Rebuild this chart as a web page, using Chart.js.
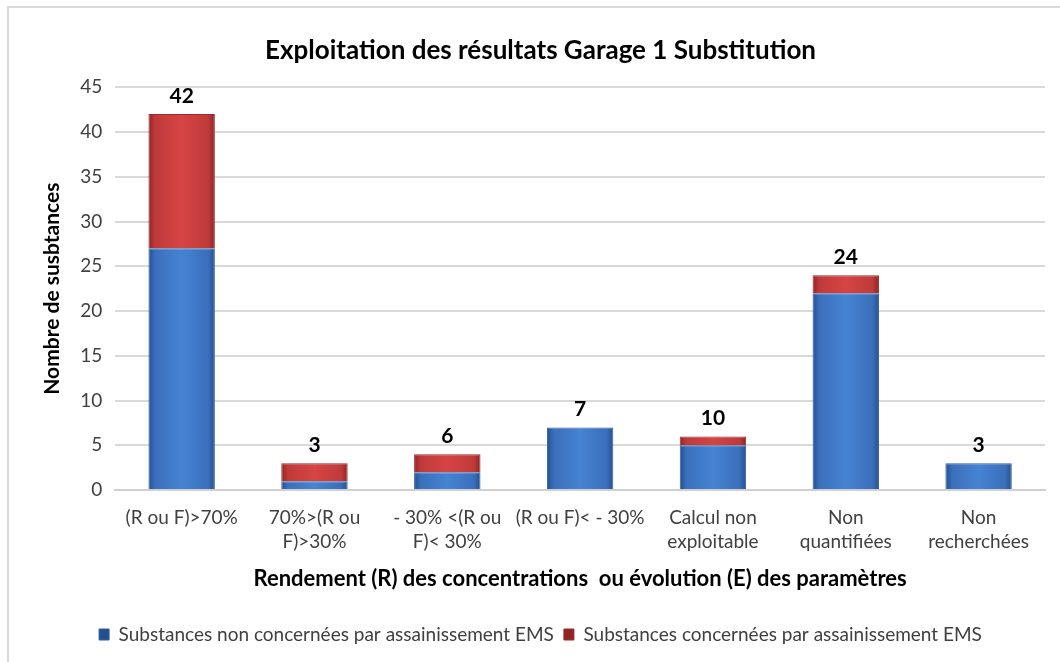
<!DOCTYPE html>
<html>
<head>
<meta charset="utf-8">
<script src="https://cdn.jsdelivr.net/npm/chart.js@4/dist/chart.umd.min.js"></script>
<style>
  body { margin: 0; background: #fff; }
  #cadre { position: absolute; left: 7px; top: 6px; width: 1060px; height: 670px; border: 2px solid #d9d9d9; box-sizing: border-box; }
  #zone { position: absolute; left: 0; top: 0; width: 1060px; height: 662px; }
</style>
</head>
<body>
<div id="cadre"></div>
<div id="zone"><canvas id="myChart"></canvas></div>
<script>
// Données du graphique
var categories = [
  ['(R ou F)>70%'],
  ['70%>(R ou', 'F)>30%'],
  ['- 30% <(R ou', 'F)< 30%'],
  ['(R ou F)< - 30%'],
  ['Calcul non', 'exploitable'],
  ['Non', 'quantifiées'],
  ['Non', 'recherchées']
];
var nonConcernees = [27, 1, 2, 7, 5, 22, 3];
var concernees = [15, 2, 2, 0, 1, 2, 0];
var etiquettes = ['42', '3', '6', '7', '10', '24', '3'];
var yTicks = [0, 5, 10, 15, 20, 25, 30, 35, 40, 45];

var police = 'Lato, "Open Sans", sans-serif';

// Dégradé horizontal pour chaque barre (effet relief)
function degrade(clair, moyen, fonce) {
  return function(c) {
    var chart = c.chart;
    var x = chart.scales.x;
    if (!chart.chartArea || !x || c.dataIndex === undefined) return moyen;
    var centre = x.getPixelForValue(c.dataIndex);
    var demi = (x.width / categories.length) * 0.5 / 2;
    var g = chart.ctx.createLinearGradient(centre - demi, 0, centre + demi, 0);
    g.addColorStop(0, fonce);
    g.addColorStop(0.1, moyen);
    g.addColorStop(0.5, clair);
    g.addColorStop(0.9, moyen);
    g.addColorStop(1, fonce);
    return g;
  };
}

// Étiquettes au-dessus des barres
var pluginEtiquettes = {
  id: 'etiquettes',
  afterDatasetsDraw: function(chart) {
    var ctx = chart.ctx;
    var x = chart.scales.x, y = chart.scales.y;
    ctx.save();
    ctx.font = 'bold 21px ' + police;
    ctx.fillStyle = '#000';
    ctx.textAlign = 'center';
    ctx.textBaseline = 'middle';
    for (var i = 0; i < categories.length; i++) {
      var haut = y.getPixelForValue(nonConcernees[i] + concernees[i]);
      ctx.fillText(etiquettes[i], x.getPixelForValue(i), haut - 18);
    }
    ctx.restore();
  }
};

var ctx = document.getElementById('myChart').getContext('2d');
new Chart(ctx, {
  type: 'bar',
  data: {
    labels: categories,
    datasets: [{
      label: 'Substances non concernées par assainissement EMS',
      data: nonConcernees,
      backgroundColor: degrade('#4683d2', '#3a6fbb', '#244f8e'),
      borderColor: '#2f5f9f',
      borderWidth: 1,
      categoryPercentage: 1,
      barPercentage: 0.5
    }, {
      label: 'Substances concernées par assainissement EMS',
      data: concernees,
      backgroundColor: degrade('#d64444', '#c03a3a', '#8f2424'),
      borderColor: '#9a2c2c',
      borderWidth: 1,
      categoryPercentage: 1,
      barPercentage: 0.5
    }]
  },
  options: {
    responsive: true,
    maintainAspectRatio: false,
    animation: false,
    layout: { padding: { left: 36, right: 15, top: 27, bottom: 8 } },
    plugins: {
      title: {
        display: true,
        text: 'Exploitation des résultats Garage 1 Substitution',
        color: '#000',
        font: { family: police, size: 26, weight: 'bold' },
        padding: { top: 8, bottom: 21 }
      },
      legend: {
        position: 'bottom',
        labels: {
          boxWidth: 10,
          boxHeight: 11,
          color: '#404040',
          font: { family: police, size: 19 },
          padding: 10
        }
      },
      tooltip: { enabled: false }
    },
    scales: {
      x: {
        stacked: true,
        grid: { display: false },
        border: { color: '#d0d0d0', width: 2 },
        ticks: { color: '#404040', font: { family: police, size: 19, lineHeight: 1.25 }, maxRotation: 0, autoSkip: false, padding: 8 },
        title: {
          display: true,
          text: 'Rendement (R) des concentrations  ou évolution (E) des paramètres',
          color: '#000',
          font: { family: police, size: 22, weight: 'bold' },
          padding: { top: 4, bottom: 23 }
        }
      },
      y: {
        stacked: true,
        min: 0,
        max: 45,
        afterBuildTicks: function(axis) {
          axis.ticks = yTicks.map(function(v) { return { value: v }; });
        },
        grid: { color: '#d9d9d9', lineWidth: 2, drawTicks: false },
        border: { display: false },
        ticks: { color: '#404040', font: { family: police, size: 19 }, padding: 13 },
        title: {
          display: true,
          text: 'Nombre de susbtances',
          color: '#000',
          font: { family: police, size: 21, weight: 'bold' },
          padding: { bottom: 2 }
        }
      }
    }
  },
  plugins: [pluginEtiquettes]
});
</script>
</body>
</html>
